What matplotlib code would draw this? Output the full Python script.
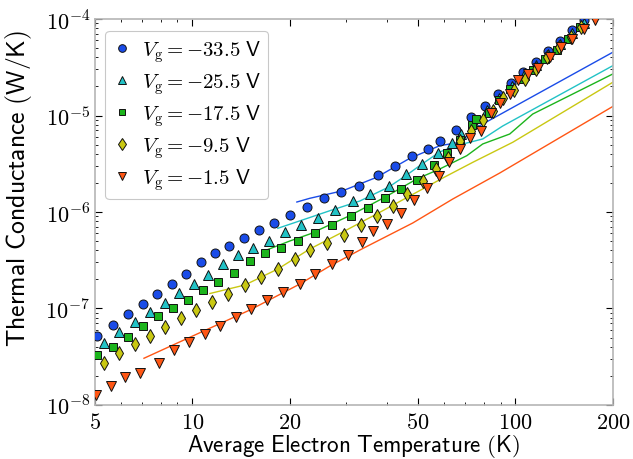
import matplotlib
matplotlib.use('Agg')
import matplotlib.pyplot as plt
from matplotlib.ticker import FixedLocator, FixedFormatter, LogLocator, NullFormatter

plt.rcParams['mathtext.fontset'] = 'cm'

# ---------------- data ----------------
gate_voltages = ['-33.5', '-25.5', '-17.5', '-9.5', '-1.5']

# measured points (temperature K, conductance W/K)
T_a = [5.06, 5.67, 6.31, 7.05, 7.79, 8.65, 9.56, 10.63, 11.75, 13.01, 14.45, 16.08, 17.95, 20.12, 22.62,
       25.53, 28.82, 32.92, 37.58, 42.32, 48.0, 53.6, 58.5, 65.4, 72.6, 80.3, 88.3, 96.7, 105.5, 115.5,
       126.1, 137.7, 150.0, 162.9]
G_a = [5.23e-8, 6.79e-8, 8.77e-8, 1.121e-7, 1.413e-7, 1.781e-7, 2.262e-7, 3.012e-7, 3.76e-7, 4.47e-7,
       5.42e-7, 6.55e-7, 7.73e-7, 9.38e-7, 1.135e-6, 1.387e-6, 1.612e-6, 1.860e-6, 2.417e-6, 2.976e-6,
       3.777e-6, 4.50e-6, 5.44e-6, 7.07e-6, 9.58e-6, 1.264e-5, 1.67e-5, 2.157e-5, 2.804e-5, 3.56e-5,
       4.63e-5, 5.96e-5, 7.69e-5, 9.83e-5]

T_b = [5.33, 5.94, 6.64, 7.39, 8.22, 9.11, 10.12, 11.22, 12.44, 13.84, 15.43, 17.22, 19.38, 21.68, 24.46,
       27.67, 31.45, 35.51, 40.56, 46.0, 51.4, 57.6, 63.8, 68.0, 74.3, 81.5, 88.8, 97.4, 106.1, 115.5,
       125.8, 137.0, 149.3, 162.6]
G_b = [4.39e-8, 5.71e-8, 7.19e-8, 9.13e-8, 1.148e-7, 1.44e-7, 1.786e-7, 2.24e-7, 2.86e-7, 3.56e-7,
       4.26e-7, 5.03e-7, 6.16e-7, 7.40e-7, 8.77e-7, 1.056e-6, 1.300e-6, 1.536e-6, 1.846e-6, 2.459e-6,
       3.144e-6, 4.118e-6, 5.15e-6, 6.43e-6, 8.36e-6, 1.140e-5, 1.518e-5, 2.021e-5, 2.629e-5, 3.337e-5,
       4.338e-5, 5.51e-5, 7.16e-5, 9.09e-5]

T_c = [5.08, 5.67, 6.32, 7.04, 7.85, 8.70, 9.70, 10.81, 12.05, 13.48, 15.08, 16.77, 18.80, 21.18, 24.0,
       27.16, 30.9, 34.86, 39.5, 44.1, 49.7, 55.9, 61.2, 67.3, 73.6, 75.6, 82.6, 89.1, 96.0, 103.8, 113.1,
       123.2, 134.8, 145.4, 158.0]
G_c = [3.30e-8, 3.99e-8, 5.10e-8, 6.62e-8, 8.30e-8, 1.012e-7, 1.234e-7, 1.555e-7, 1.895e-7, 2.36e-7,
       3.07e-7, 3.72e-7, 4.24e-7, 4.97e-7, 6.06e-7, 7.33e-7, 9.03e-7, 1.100e-6, 1.407e-6, 1.731e-6,
       2.156e-6, 3.069e-6, 4.088e-6, 5.573e-6, 7.88e-6, 9.20e-6, 1.074e-5, 1.447e-5, 1.883e-5, 2.389e-5,
       2.961e-5, 3.85e-5, 4.81e-5, 6.21e-5, 8.20e-5]

T_d = [5.33, 5.94, 6.63, 7.40, 8.25, 9.21, 10.27, 11.50, 12.93, 14.57, 16.33, 18.40, 20.73, 23.16, 26.03,
       29.38, 33.16, 37.2, 41.7, 46.3, 51.8, 56.7, 61.9, 67.6, 73.1, 79.4, 85.2, 91.5, 98.8, 106.8, 115.5,
       125.2, 136.4, 148.9, 159.9]
G_d = [2.72e-8, 3.46e-8, 4.29e-8, 5.25e-8, 6.43e-8, 7.97e-8, 9.76e-8, 1.168e-7, 1.397e-7, 1.739e-7,
       2.120e-7, 2.597e-7, 3.258e-7, 4.058e-7, 4.750e-7, 5.777e-7, 7.33e-7, 9.16e-7, 1.162e-6, 1.536e-6,
       2.080e-6, 2.790e-6, 3.627e-6, 5.48e-6, 6.86e-6, 8.98e-6, 1.121e-5, 1.518e-5, 1.837e-5, 2.389e-5,
       3.033e-5, 4.01e-5, 5.09e-5, 6.55e-5, 8.20e-5]

T_e = [5.04, 5.59, 6.20, 6.89, 7.90, 8.78, 9.76, 10.92, 12.18, 13.66, 15.24, 17.08, 19.11, 21.48, 24.06,
       26.97, 30.23, 33.54, 36.3, 40.1, 44.2, 48.7, 53.1, 57.8, 62.3, 67.6, 72.2, 78.1, 84.2, 89.4, 96.4,
       101.9, 109.5, 117.5, 127.6, 138.0, 149.8, 162.6, 176.4]
G_e = [1.27e-8, 1.56e-8, 1.97e-8, 2.15e-8, 2.74e-8, 3.73e-8, 4.47e-8, 5.40e-8, 6.54e-8, 8.07e-8,
       9.88e-8, 1.234e-7, 1.490e-7, 1.803e-7, 2.305e-7, 2.878e-7, 3.601e-7, 4.853e-7, 6.31e-7, 7.56e-7,
       9.76e-7, 1.331e-6, 1.773e-6, 2.378e-6, 3.273e-6, 4.55e-6, 5.85e-6, 6.91e-6, 1.067e-5, 1.357e-5,
       1.670e-5, 2.333e-5, 2.692e-5, 3.121e-5, 4.058e-5, 5.13e-5, 6.25e-5, 7.88e-5, 9.76e-5]

# model curves
Tf_a = [21.07, 23.11, 29.24, 37.2, 47.1, 58.3, 67.3, 75.9, 200]
Gf_a = [1.269e-6, 1.387e-6, 1.662e-6, 2.288e-6, 3.601e-6, 4.864e-6, 5.28e-6, 7.54e-6, 4.52e-5]
Tf_b = [18.40, 23.11, 26.65, 33.0, 40.56, 46.1, 51.4, 58.3, 64.9, 79.2, 91.3, 200]
Gf_b = [6.78e-7, 8.77e-7, 1.031e-6, 1.300e-6, 1.816e-6, 2.417e-6, 3.144e-6, 4.186e-6, 4.83e-6, 5.71e-6,
        7.78e-6, 3.28e-5]
Tf_c = [16.77, 20.04, 23.11, 30.7, 39.4, 49.5, 58.3, 70.7, 79.2, 96.0, 113.1, 200]
Gf_c = [3.972e-7, 5.006e-7, 5.916e-7, 9.16e-7, 1.420e-6, 2.198e-6, 2.790e-6, 3.832e-6, 5.07e-6, 6.43e-6,
        1.036e-5, 2.692e-5]
Tf_d = [11.34, 14.55, 18.40, 23.11, 29.24, 37.2, 47.1, 60.4, 73.8, 98.1, 200]
Gf_d = [1.430e-7, 1.752e-7, 2.566e-7, 4.136e-7, 6.21e-7, 9.53e-7, 1.465e-6, 2.305e-6, 3.273e-6, 5.28e-6,
        2.208e-5]
Tf_e = [7.09, 9.83, 15.08, 21.53, 26.65, 33.7, 48.1, 64.0, 89.4, 200]
Gf_e = [3.05e-8, 5.03e-8, 9.65e-8, 1.794e-7, 2.756e-7, 4.186e-7, 7.69e-7, 1.364e-6, 2.535e-6, 1.240e-5]

x_ticks = [5, 10, 20, 50, 100, 200]
y_ticks = [1e-8, 1e-7, 1e-6, 1e-5, 1e-4]
y_tick_labels = [r'$10^{-8}$', r'$10^{-7}$', r'$10^{-6}$', r'$10^{-5}$', r'$10^{-4}$']

# ---------------- style ----------------
colors = ['#1a4ce8', '#22c2c6', '#1cb41c', '#c9c812', '#ff5614']
markers = ['o', '^', 's', 'd', 'v']
msizes = [6.5, 6.8, 5.9, 7.2, 6.8]

fig = plt.figure(figsize=(6.33, 4.60), dpi=100)
ax = fig.add_axes([0.150, 0.1174, 0.818, 0.8391])

pts = [(T_a, G_a), (T_b, G_b), (T_c, G_c), (T_d, G_d), (T_e, G_e)]
fits = [(Tf_a, Gf_a), (Tf_b, Gf_b), (Tf_c, Gf_c), (Tf_d, Gf_d), (Tf_e, Gf_e)]

for i in range(5):
    ax.plot(fits[i][0], fits[i][1], '-', color=colors[i], lw=1.0, zorder=2)
for i in range(5):
    ax.plot(pts[i][0], pts[i][1], linestyle='none', marker=markers[i], ms=msizes[i],
            mfc=colors[i], mec='#111111', mew=0.7, zorder=3 + i,
            label=r'$V_{\rm g} = ' + gate_voltages[i] + r'\ \mathsf{V}$')

ax.set_xscale('log')
ax.set_yscale('log')
ax.set_xlim(5, 200)
ax.set_ylim(1e-8, 1e-4)

ax.xaxis.set_major_locator(FixedLocator(x_ticks))
ax.xaxis.set_major_formatter(FixedFormatter([r'$\mathsf{%d}$' % v for v in x_ticks]))
ax.xaxis.set_minor_locator(LogLocator(base=10, subs=range(2, 10)))
ax.xaxis.set_minor_formatter(NullFormatter())
ax.yaxis.set_major_locator(FixedLocator(y_ticks))
ax.yaxis.set_major_formatter(FixedFormatter(y_tick_labels))
ax.yaxis.set_minor_locator(LogLocator(base=10, subs=range(2, 10)))
ax.yaxis.set_minor_formatter(NullFormatter())

ax.tick_params(which='both', direction='in', top=True, right=True, colors='black', labelsize=16)
ax.tick_params(which='major', length=5, width=0.8)
ax.tick_params(which='minor', length=2.5, width=0.6)
ax.tick_params(axis='x', pad=5)

for s in ax.spines.values():
    s.set_color('#b5b5b5')
    s.set_linewidth(1.2)

ax.set_xlabel(r'$\mathsf{Average\ Electron\ Temperature\ (K)}$', fontsize=16.6, labelpad=0)
ax.set_ylabel(r'$\mathsf{Thermal\ Conductance\ (W/K)}$', fontsize=18.5)
ax.yaxis.set_label_coords(-0.118, 0.565)

leg = ax.legend(loc='upper left', bbox_to_anchor=(0.008, 0.985), fontsize=15, numpoints=1,
                markerscale=0.85, frameon=True, fancybox=True, handlelength=0.9,
                handletextpad=0.5, labelspacing=0.3, borderpad=0.35, borderaxespad=0.3)
leg.get_frame().set_edgecolor('#bbbbbb')
leg.get_frame().set_linewidth(0.8)

fig.savefig('out.png', dpi=100)
